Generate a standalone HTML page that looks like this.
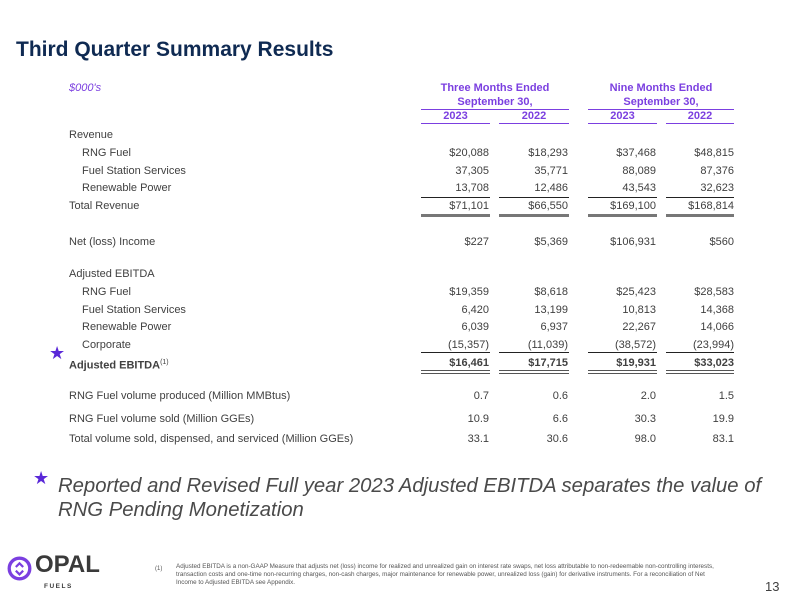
<!DOCTYPE html>
<html><head><meta charset="utf-8"><style>
body{margin:0;width:800px;height:600px;background:#fff;position:relative;overflow:hidden;font-family:"Liberation Sans",sans-serif;color:#404040}
.a{position:absolute;white-space:nowrap}
.r{position:absolute;font-size:11px;height:14px;line-height:14px}
.r .l{position:absolute;left:0}
.r .v{position:absolute;text-align:right;width:90px}
.ln{position:absolute;height:0}
.p{color:#7b3fe0;font-weight:bold;font-size:11px}
</style></head><body>
<div class="a" style="left:16px;top:38px;font-size:21px;font-weight:bold;color:#0f2a52">Third Quarter Summary Results</div>
<div class="a" style="left:69px;top:82px;font-size:11px;font-style:italic;color:#7b3fe0">$000's</div>
<div class="a p" style="left:421px;width:148px;text-align:center;top:81px;line-height:14px">Three Months Ended<br>September 30,</div>
<div class="a p" style="left:588px;width:146px;text-align:center;top:81px;line-height:14px">Nine Months Ended<br>September 30,</div>
<div class="ln" style="left:421px;width:148px;top:109px;border-top:1px solid #7b3fe0"></div>
<div class="ln" style="left:588px;width:146px;top:109px;border-top:1px solid #7b3fe0"></div>
<div class="a p" style="left:421px;width:69px;text-align:center;top:110px">2023</div>
<div class="a p" style="left:499px;width:70px;text-align:center;top:110px">2022</div>
<div class="a p" style="left:588px;width:69px;text-align:center;top:110px">2023</div>
<div class="a p" style="left:666px;width:68px;text-align:center;top:110px">2022</div>
<div class="ln" style="left:421px;width:69px;top:123px;border-top:1px solid #7b3fe0"></div>
<div class="ln" style="left:499px;width:70px;top:123px;border-top:1px solid #7b3fe0"></div>
<div class="ln" style="left:588px;width:69px;top:123px;border-top:1px solid #7b3fe0"></div>
<div class="ln" style="left:666px;width:68px;top:123px;border-top:1px solid #7b3fe0"></div>

<div id="rows"></div>
<script>
var rows=[
[128,"Revenue",0],
[146,"RNG Fuel",1,"$20,088","$18,293","$37,468","$48,815"],
[164,"Fuel Station Services",1,"37,305","35,771","88,089","87,376"],
[181,"Renewable Power",1,"13,708","12,486","43,543","32,623"],
[199,"Total Revenue",0,"$71,101","$66,550","$169,100","$168,814"],
[235,"Net (loss) Income",0,"$227","$5,369","$106,931","$560"],
[267,"Adjusted EBITDA",0],
[285,"RNG Fuel",1,"$19,359","$8,618","$25,423","$28,583"],
[303,"Fuel Station Services",1,"6,420","13,199","10,813","14,368"],
[320,"Renewable Power",1,"6,039","6,937","22,267","14,066"],
[338,"Corporate",1,"(15,357)","(11,039)","(38,572)","(23,994)"],
[356,"Adjusted EBITDA<sup style='font-size:7px;font-weight:normal'>(1)</sup>",2,"$16,461","$17,715","$19,931","$33,023"],
[389,"RNG Fuel volume produced (Million MMBtus)",0,"0.7","0.6","2.0","1.5"],
[412,"RNG Fuel volume sold (Million GGEs)",0,"10.9","6.6","30.3","19.9"],
[432,"Total volume sold, dispensed, and serviced (Million GGEs)",0,"33.1","30.6","98.0","83.1"]];
var R=[489,568,656,734],h="";
rows.forEach(function(r){
 var bold=r[2]==2?"font-weight:bold;":"";
 h+='<div class="r" style="top:'+r[0]+'px;left:0;width:800px;'+bold+'"><span class="l" style="left:'+(r[2]==1?82:69)+'px">'+r[1]+'</span>';
 for(var i=0;i<4;i++)if(r[3+i])h+='<span class="v" style="left:'+(R[i]-90)+'px">'+r[3+i]+'</span>';
 h+='</div>';
});
var L=[[421,69],[499,70],[588,69],[666,68]];
L.forEach(function(c){
 h+='<div class="ln" style="left:'+c[0]+'px;width:'+c[1]+'px;top:197px;border-top:1.5px solid #222"></div>';
 h+='<div class="ln" style="left:'+c[0]+'px;width:'+c[1]+'px;top:214px;border-top:3px solid #777"></div>';
 h+='<div class="ln" style="left:'+c[0]+'px;width:'+c[1]+'px;top:352px;border-top:1.5px solid #222"></div>';
 h+='<div class="ln" style="left:'+c[0]+'px;width:'+c[1]+'px;top:370px;height:2px;border-top:1px solid #555;border-bottom:1px solid #555"></div>';
});
document.getElementById("rows").innerHTML=h;
</script>
<div class="a" style="left:49px;top:343px;font-size:18px;color:#5a28d8">★</div>
<div class="a" style="left:33px;top:468px;font-size:18px;color:#5a28d8">★</div>
<div class="a" style="left:58px;top:474px;font-size:20.3px;font-style:italic;color:#4a4a4a;line-height:24px">Reported and Revised Full year 2023 Adjusted EBITDA separates the value of<br>RNG Pending Monetization</div>
<svg class="a" style="left:7px;top:556px" width="25" height="25" viewBox="0 0 34 34"><circle cx="17" cy="17" r="14" fill="none" stroke="#7b3fe0" stroke-width="4.5"/><path d="M12 15 L17 10 L22 15 M12 20 L17 25 L22 20" fill="none" stroke="#7b3fe0" stroke-width="3"/></svg>
<div class="a" style="left:35px;top:551px;font-size:24px;font-weight:bold;color:#3a3a3a">OPAL</div>
<div class="a" style="left:44px;top:583px;font-size:6.5px;font-weight:bold;color:#3a3a3a;letter-spacing:1.5px">FUELS</div>
<div class="a" style="left:155px;top:566px;font-size:6px;color:#555">(1)</div>
<div class="a" style="left:176px;top:563px;font-size:6.3px;color:#555;line-height:8px">Adjusted EBITDA is a  non-GAAP Measure that adjusts net (loss) income for realized and unrealized gain on interest rate swaps, net loss attributable to non-redeemable non-controlling interests,<br>transaction costs and one-time non-recurring charges, non-cash charges, major maintenance for renewable power, unrealized loss (gain) for derivative instruments. For a reconciliation of Net<br>Income to Adjusted EBITDA see Appendix.</div>
<div class="a" style="left:765px;top:579px;font-size:13px;color:#404040">13</div>
</body></html>
